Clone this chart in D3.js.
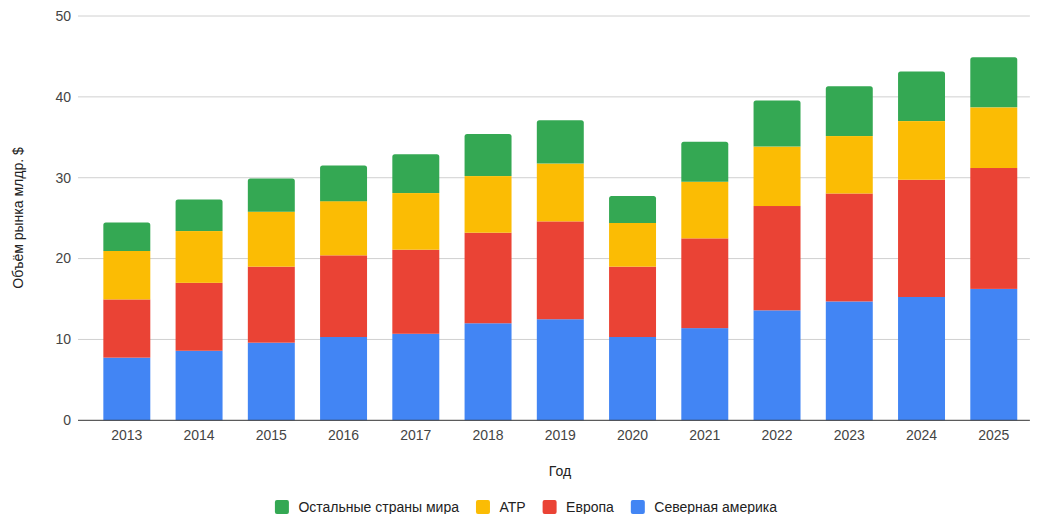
<!DOCTYPE html>
<html>
<head>
<meta charset="utf-8">
<script src="https://cdn.jsdelivr.net/npm/d3@7"></script>
<style>
  body { margin: 0; background: #fff; }
  text { font-family: Arial, "Liberation Sans", sans-serif; }
</style>
</head>
<body>
<svg id="chart" width="1038" height="514"></svg>
<script>
// Chart data (billions $)
var years = ["2013", "2014", "2015", "2016", "2017", "2018", "2019", "2020", "2021", "2022", "2023", "2024", "2025"];
var northAmerica = [7.75, 8.6, 9.6, 10.3, 10.7, 12.0, 12.5, 10.3, 11.4, 13.6, 14.7, 15.25, 16.25];
var europe = [7.2, 8.4, 9.4, 10.1, 10.4, 11.2, 12.1, 8.7, 11.1, 12.9, 13.35, 14.5, 14.95];
var apac = [6.0, 6.4, 6.8, 6.7, 7.0, 7.0, 7.15, 5.4, 7.0, 7.35, 7.1, 7.25, 7.5];
var restOfWorld = [3.5, 3.9, 4.1, 4.4, 4.8, 5.2, 5.35, 3.35, 4.95, 5.7, 6.15, 6.15, 6.2];
var yTicks = [0, 10, 20, 30, 40, 50];

var seriesNames = ["Северная америка", "Европа", "АТР", "Остальные страны мира"];
var seriesKeys = ["na", "eu", "apac", "row"];
var colors = {na: "#4285F4", eu: "#EA4335", apac: "#FBBC04", row: "#34A853"};

// Build rows for d3.stack
var rows = years.map(function(y, i) {
    return {year: y, na: northAmerica[i], eu: europe[i], apac: apac[i], row: restOfWorld[i]};
});

var svg = d3.select("#chart");
var plotLeft = 90.7, plotRight = 1029.9, plotTop = 16, plotBottom = 420.3;
var fontSize = 14;

var x = d3.scaleBand().domain(years).range([plotLeft, plotRight]).paddingInner(0.35).paddingOuter(0.175);
var y = d3.scaleLinear().domain([0, 50]).range([plotBottom, plotTop]);

// Grid lines
svg.append("g").selectAll("line").data(yTicks.filter(function(d) { return d > 0; }))
    .enter().append("line")
    .attr("x1", 78).attr("x2", plotRight)
    .attr("y1", function(d) { return y(d); }).attr("y2", function(d) { return y(d); })
    .attr("stroke", "#d0d0d0").attr("stroke-width", 1);

// Y tick labels
svg.append("g").selectAll("text").data(yTicks)
    .enter().append("text")
    .attr("x", 71).attr("y", function(d) { return y(d); })
    .attr("dy", "0.35em")
    .attr("text-anchor", "end")
    .attr("font-size", fontSize).attr("fill", "#444")
    .text(function(d) { return d; });

var stacked = d3.stack().keys(seriesKeys)(rows);

// Path with rounded top corners for the top segment
function roundTop(x0, y0, w, h, r) {
    return "M" + x0 + "," + (y0 + h) +
        "V" + (y0 + r) +
        "Q" + x0 + "," + y0 + " " + (x0 + r) + "," + y0 +
        "H" + (x0 + w - r) +
        "Q" + (x0 + w) + "," + y0 + " " + (x0 + w) + "," + (y0 + r) +
        "V" + (y0 + h) + "Z";
}

stacked.forEach(function(layer, li) {
    var isTop = li === stacked.length - 1;
    var g = svg.append("g").attr("fill", colors[layer.key]);
    layer.forEach(function(seg) {
        var x0 = x(seg.data.year), w = x.bandwidth();
        var y0 = y(seg[1]), h = y(seg[0]) - y(seg[1]);
        if (isTop) {
            g.append("path").attr("d", roundTop(x0, y0, w, h, 2.5));
        } else {
            g.append("rect").attr("x", x0).attr("y", y0).attr("width", w).attr("height", h);
        }
    });
});

// Baseline
svg.append("line")
    .attr("x1", 78).attr("x2", plotRight)
    .attr("y1", y(0)).attr("y2", y(0))
    .attr("stroke", "#333").attr("stroke-width", 1);

// X tick labels
svg.append("g").selectAll("text").data(years)
    .enter().append("text")
    .attr("x", function(d) { return x(d) + x.bandwidth() / 2; })
    .attr("y", 435).attr("dy", "0.35em")
    .attr("text-anchor", "middle")
    .attr("font-size", fontSize).attr("fill", "#444")
    .text(function(d) { return d; });

// Axis titles
svg.append("text")
    .attr("x", 560).attr("y", 471).attr("dy", "0.35em")
    .attr("text-anchor", "middle")
    .attr("font-size", fontSize).attr("fill", "#222")
    .text("Год");

svg.append("text")
    .attr("transform", "translate(18,218) rotate(-90)")
    .attr("dy", "0.35em")
    .attr("text-anchor", "middle")
    .attr("font-size", fontSize).attr("fill", "#222")
    .text("Объём рынка млдр. $");

// Legend (reverse order, as in the original)
var legendOrder = [3, 2, 1, 0];
var legendGap = 17;
var legend = svg.append("g");
var cursor = 0;
legendOrder.forEach(function(i) {
    var item = legend.append("g").attr("transform", "translate(" + cursor + ",0)");
    item.append("rect")
        .attr("x", 0).attr("y", -7).attr("width", 14).attr("height", 14)
        .attr("rx", 2).attr("fill", colors[seriesKeys[i]]);
    var t = item.append("text")
        .attr("x", 23.5).attr("y", 0).attr("dy", "0.35em")
        .attr("font-size", fontSize).attr("fill", "#222")
        .text(seriesNames[i]);
    cursor += 23.5 + t.node().getComputedTextLength() + legendGap;
});
var legendWidth = cursor - legendGap;
legend.attr("transform", "translate(" + (526 - legendWidth / 2) + ",507)");
</script>
</body>
</html>
